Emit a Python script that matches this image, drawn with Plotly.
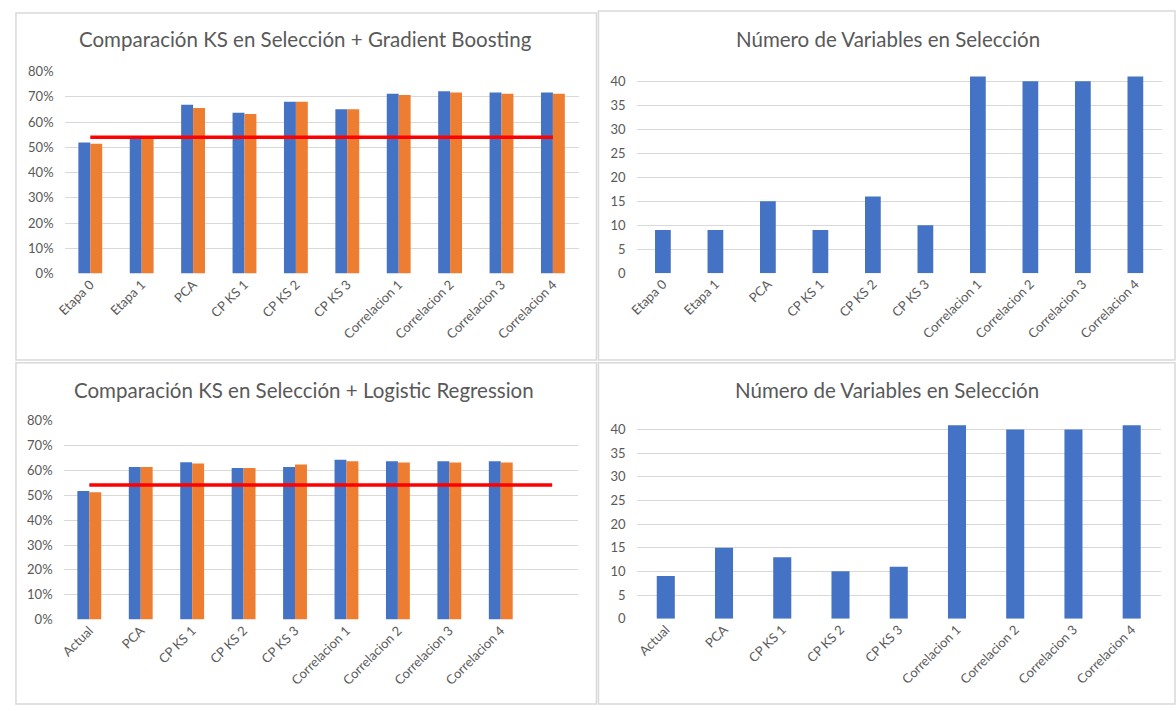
import plotly.graph_objects as go

W, H = 1176, 711

# --- data -------------------------------------------------------------
cats_gb = ["Etapa 0", "Etapa 1", "PCA", "CP KS 1", "CP KS 2", "CP KS 3",
           "Correlacion 1", "Correlacion 2", "Correlacion 3", "Correlacion 4"]
ks_gb_a = [0.519, 0.538, 0.669, 0.637, 0.680, 0.651, 0.712, 0.722, 0.717, 0.717]
ks_gb_b = [0.514, 0.538, 0.656, 0.632, 0.680, 0.651, 0.707, 0.717, 0.712, 0.712]
ks_gb_ref = [0.540, 0.540, 0.540, 0.540, 0.540, 0.540, 0.540, 0.540, 0.540, 0.540]
n_vars_gb = [9, 9, 15, 9, 16, 10, 41, 40, 40, 41]

cats_lr = ["Actual", "PCA", "CP KS 1", "CP KS 2", "CP KS 3",
           "Correlacion 1", "Correlacion 2", "Correlacion 3", "Correlacion 4"]
ks_lr_a = [0.518, 0.614, 0.633, 0.610, 0.614, 0.643, 0.637, 0.637, 0.637]
ks_lr_b = [0.513, 0.614, 0.628, 0.610, 0.624, 0.637, 0.632, 0.632, 0.632]
ks_lr_ref = [0.542, 0.542, 0.542, 0.542, 0.542, 0.542, 0.542, 0.542, 0.542, 0.542]
n_vars_lr = [9, 15, 13, 10, 11, 41, 40, 40, 41]

titles = ["Comparación KS en Selección + Gradient Boosting",
          "Número de Variables en Selección",
          "Comparación KS en Selección + Logistic Regression",
          "Número de Variables en Selección"]

# --- style ------------------------------------------------------------
BLUE = "#4472C4"
ORANGE = "#ED7D31"
RED = "#FF0000"
GRID = "#D9D9D9"
TXT = "#595959"
FONT = "Lato"


def px_x(v):
    return v / W


def px_y(v):
    return 1 - v / H


fig = go.Figure()

# panel geometry in pixels: (x0, x1, y_top, y_bottom)
panels = {
    "1": (56, 574, 65, 271.7),
    "2": (632.5, 1161.5, 67.7, 271.3),
    "3": (55, 573.3, 422.3, 625.7),
    "4": (632.5, 1160.7, 426.9, 624.7),
}

# top-left: KS gradient boosting
x_gb = list(range(len(cats_gb)))
fig.add_trace(go.Bar(x=x_gb, y=ks_gb_a, width=0.232, offset=-0.232,
                     marker=dict(color=BLUE, line=dict(width=0)),
                     xaxis="x", yaxis="y"))
fig.add_trace(go.Bar(x=x_gb, y=ks_gb_b, width=0.232, offset=0,
                     marker=dict(color=ORANGE, line=dict(width=0)),
                     xaxis="x", yaxis="y"))
fig.add_trace(go.Scatter(x=x_gb, y=ks_gb_ref, mode="lines",
                         line=dict(color=RED, width=3.5),
                         xaxis="x", yaxis="y"))

# top-right: number of variables
fig.add_trace(go.Bar(x=x_gb, y=n_vars_gb, width=0.30,
                     marker=dict(color=BLUE, line=dict(width=0)),
                     xaxis="x2", yaxis="y2"))

# bottom-left: KS logistic regression (one empty slot at the end)
x_lr = list(range(len(cats_lr)))
x_lr_ref = list(range(len(ks_lr_ref)))
fig.add_trace(go.Bar(x=x_lr, y=ks_lr_a, width=0.232, offset=-0.232,
                     marker=dict(color=BLUE, line=dict(width=0)),
                     xaxis="x3", yaxis="y3"))
fig.add_trace(go.Bar(x=x_lr, y=ks_lr_b, width=0.232, offset=0,
                     marker=dict(color=ORANGE, line=dict(width=0)),
                     xaxis="x3", yaxis="y3"))
fig.add_trace(go.Scatter(x=x_lr_ref, y=ks_lr_ref, mode="lines",
                         line=dict(color=RED, width=3.5),
                         xaxis="x3", yaxis="y3"))

# bottom-right: number of variables
fig.add_trace(go.Bar(x=x_lr, y=n_vars_lr, width=0.31,
                     marker=dict(color=BLUE, line=dict(width=0)),
                     xaxis="x4", yaxis="y4"))

tick_font = dict(family=FONT, size=13, color=TXT)


def xaxis(key, labels, n_slots):
    x0, x1, yt, yb = panels[key]
    return dict(domain=[px_x(x0), px_x(x1)], anchor="y" + ("" if key == "1" else key),
                range=[-0.5, n_slots - 0.5], tickmode="array",
                tickvals=list(range(len(labels))), ticktext=labels,
                tickangle=-45, tickfont=tick_font, showgrid=False,
                zeroline=False, showline=False, ticks="", fixedrange=True)


def yaxis(key, rng, dtick, fmt):
    x0, x1, yt, yb = panels[key]
    return dict(domain=[px_y(yb), px_y(yt)], anchor="x" + ("" if key == "1" else key),
                range=rng, dtick=dtick, tick0=0, tickformat=fmt,
                tickfont=tick_font, showgrid=True, gridcolor=GRID, gridwidth=1,
                zeroline=False, showline=False, ticks="", ticklabelstandoff=10,
                fixedrange=True)


fig.update_layout(
    width=W, height=H,
    margin=dict(l=0, r=0, t=0, b=0),
    paper_bgcolor="white", plot_bgcolor="white",
    barmode="overlay", showlegend=False,
    font=dict(family=FONT, color=TXT),
    xaxis=xaxis("1", cats_gb, 10),
    yaxis=yaxis("1", [0, 0.8], 0.1, ".0%"),
    xaxis2=xaxis("2", cats_gb, 10),
    yaxis2=yaxis("2", [0, 41.5], 5, "d"),
    xaxis3=xaxis("3", cats_lr, 10),
    yaxis3=yaxis("3", [0, 0.8], 0.1, ".0%"),
    xaxis4=xaxis("4", cats_lr, 9),
    yaxis4=yaxis("4", [0, 40.9], 5, "d"),
)

# chart titles
title_pos = [(299, 32), (886, 32), (297.5, 391), (885, 391)]
for text, (cx, cy) in zip(titles, title_pos):
    fig.add_annotation(text=text, x=px_x(cx), y=px_y(cy), xref="paper", yref="paper",
                       xanchor="center", yanchor="middle", showarrow=False,
                       font=dict(family=FONT, size=20.5, color=TXT))

# chart-area frames
frames = [(7, 5, 592, 360), (594, 3, 1175, 360), (7, 363, 592, 712), (594, 363, 1175, 712)]
for x0, y0, x1, y1 in frames:
    fig.add_shape(type="rect", xref="paper", yref="paper",
                  x0=px_x(x0), x1=px_x(x1), y0=px_y(y1), y1=px_y(y0),
                  line=dict(color=GRID, width=1.5), layer="below")

fig.write_html("out.html")
